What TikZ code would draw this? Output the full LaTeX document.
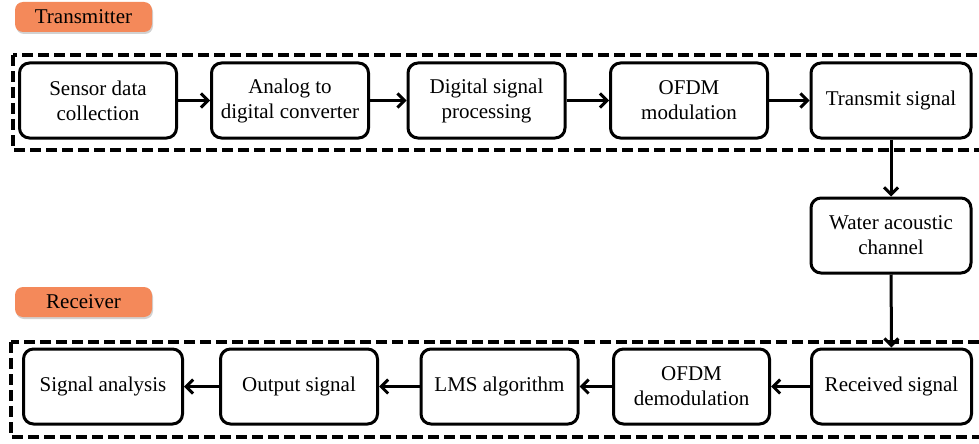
\documentclass[tikz,border=0pt]{standalone}
\usepackage{fontspec}
\setmainfont{Liberation Serif}
\newfontfamily\tnr{Liberation Serif}
\usetikzlibrary{arrows.meta,shadows}
\definecolor{pill}{HTML}{F4895A}
\tikzset{
  blk/.style={draw=black, line width=3pt, rounded corners=10pt, minimum width=157pt, minimum height=75pt, align=center, font=\tnr\fontsize{21}{25}\selectfont, fill=white},
  lab/.style={fill=pill, rounded corners=8pt, minimum width=137pt, minimum height=30pt, font=\tnr\fontsize{21}{24}\selectfont, drop shadow={shadow xshift=1pt, shadow yshift=-2pt, opacity=0.35}},
  frame/.style={draw=black, line width=3.4pt, dash pattern=on 11pt off 5pt},
  conn/.style={line width=3pt, -{Straight Barb[length=7pt,width=14pt,line width=3pt]}}
}
\begin{document}
\begin{tikzpicture}[x=1pt,y=-1pt]
\useasboundingbox (0,0) rectangle (979,444);
\clip (0,0) rectangle (979,444);
\fill[white] (0,0) rectangle (979,444);
\draw[frame] (13,55) rectangle (1000,150);
\draw[frame] (11,342) rectangle (1000,437);
\node[lab] (tx) at (83.5,17) {Transmitter};
\node[lab] (rx) at (83.5,302) {Receiver};
\node[blk] (s1) at (98,100.5) {Sensor data\\collection};
\node[blk] (s2) at (290,100.5) {Analog to\\digital converter};
\node[blk] (s3) at (486.5,100.5) {Digital signal\\processing};
\node[blk] (s4) at (689,100.5) {OFDM\\modulation};
\node[blk, minimum width=160pt] (s5) at (891,100.5) {Transmit signal};
\node[blk, minimum width=160pt] (w) at (891,235.5) {Water acoustic\\channel};
\node[blk, minimum width=160pt] (r1) at (891.5,386.5) {Received signal};
\node[blk, minimum width=156pt] (r2) at (691.5,386.5) {OFDM\\demodulation};
\node[blk] (r3) at (499.5,386.5) {LMS algorithm};
\node[blk] (r4) at (299,386.5) {Output signal};
\node[blk, minimum width=159pt] (r5) at (103,386.5) {Signal analysis};
\draw[conn] (s1) -- (s2);
\draw[conn] (s2) -- (s3);
\draw[conn] (s3) -- (s4);
\draw[conn] (s4) -- (s5);
\draw[conn] (s5) -- (w);
\draw[conn] (w) -- (r1);
\draw[conn] (r1) -- (r2);
\draw[conn] (r2) -- (r3);
\draw[conn] (r3) -- (r4);
\draw[conn] (r4) -- (r5);
\end{tikzpicture}
\end{document}
